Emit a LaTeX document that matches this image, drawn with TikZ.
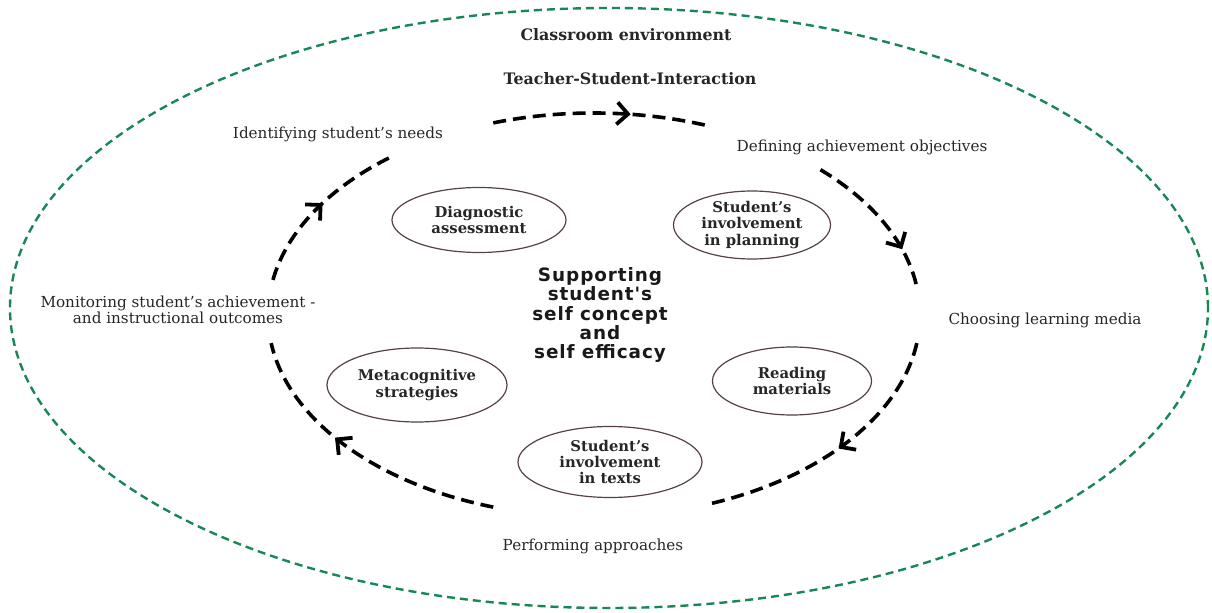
\documentclass[tikz,border=0pt]{standalone}
\usepackage{fontspec}
\setmainfont{DejaVu Serif}
\newfontfamily\corefont[LetterSpace=5]{DejaVu Sans}
\usepackage{xcolor}
\usepackage{tikz}
\usetikzlibrary{shapes.geometric}
\usetikzlibrary{arrows.meta}
\usetikzlibrary{decorations.markings}

\definecolor{envgreen}{RGB}{25,135,85}
\definecolor{bubbleline}{RGB}{85,65,70}

\begin{document}
\begin{tikzpicture}[x=0.5pt, y=0.5pt,
	stage/.style={font=\fontsize{7.6}{7.8}\selectfont, text=black!85, inner sep=0pt, align=center},
	heading/.style={font=\bfseries\fontsize{7.9}{8}\selectfont, text=black!85, inner sep=0pt},
	bubble/.style={ellipse, draw=bubbleline, line width=0.6pt, inner sep=0pt, align=center, font=\bfseries\fontsize{7.4}{8.2}\selectfont, text=black!85},
	flow/.style={line width=1.8pt, dash pattern=on 6.5pt off 3.5pt, decoration={markings, mark=at position #1 with {\arrow{Straight Barb[length=5.5pt, width=11pt, line width=1.9pt]}}}, postaction=decorate}]
		\useasboundingbox (0,0) rectangle (1212,612);
		% classroom boundary
		\draw[envgreen, line width=1.2pt, dash pattern=on 4pt off 2.5pt] (609,304) ellipse [x radius=599, y radius=300];
		\node[heading] (env) at (626,577) {Classroom environment};
		\node[heading] (tsi) at (630,533) {Teacher-Student-Interaction};
		% cycle of stages
		\coordinate (hub) at (594,297);
		\foreach \a/\b/\p in {108/69/0.63, 46/8/0.74, -8/-70/0.48, -108/-172/0.6, 170/128/0.52}
			\draw[flow=\p] ([shift={(\a:326 and 202)}]hub) arc[start angle=\a, end angle=\b, x radius=326, y radius=202];
		\node[stage] (needs) at (338,478) {Identifying student's needs};
		\node[stage] (objectives) at (862,465) {Defining achievement objectives};
		\node[stage] (media) at (1045,292) {Choosing learning media};
		\node[stage] (approaches) at (593,66) {Performing approaches};
		\node[stage] (monitoring) at (178,302) {Monitoring student's achievement -\\and instructional outcomes};
		% centre and bubbles
		\node[font=\corefont\bfseries\fontsize{9.2}{9.6}\selectfont, align=center, text=black!90] (core) at (600,297) {Supporting\\student's\\self concept\\and\\self efficacy};
		\node[bubble, minimum width=87pt, minimum height=32.5pt] (diag) at (479,392) {Diagnostic\\assessment};
		\node[bubble, minimum width=78.5pt, minimum height=34pt] (plan) at (752,387) {Student's\\involvement\\in planning};
		\node[bubble, minimum width=90pt, minimum height=37pt] (meta) at (417,227) {Metacognitive\\strategies};
		\node[bubble, minimum width=92pt, minimum height=35.5pt] (texts) at (610,150) {Student's\\involvement\\in texts};
		\node[bubble, minimum width=79.5pt, minimum height=34pt] (reading) at (792,231) {Reading\\materials};
	\end{tikzpicture}
\end{document}
